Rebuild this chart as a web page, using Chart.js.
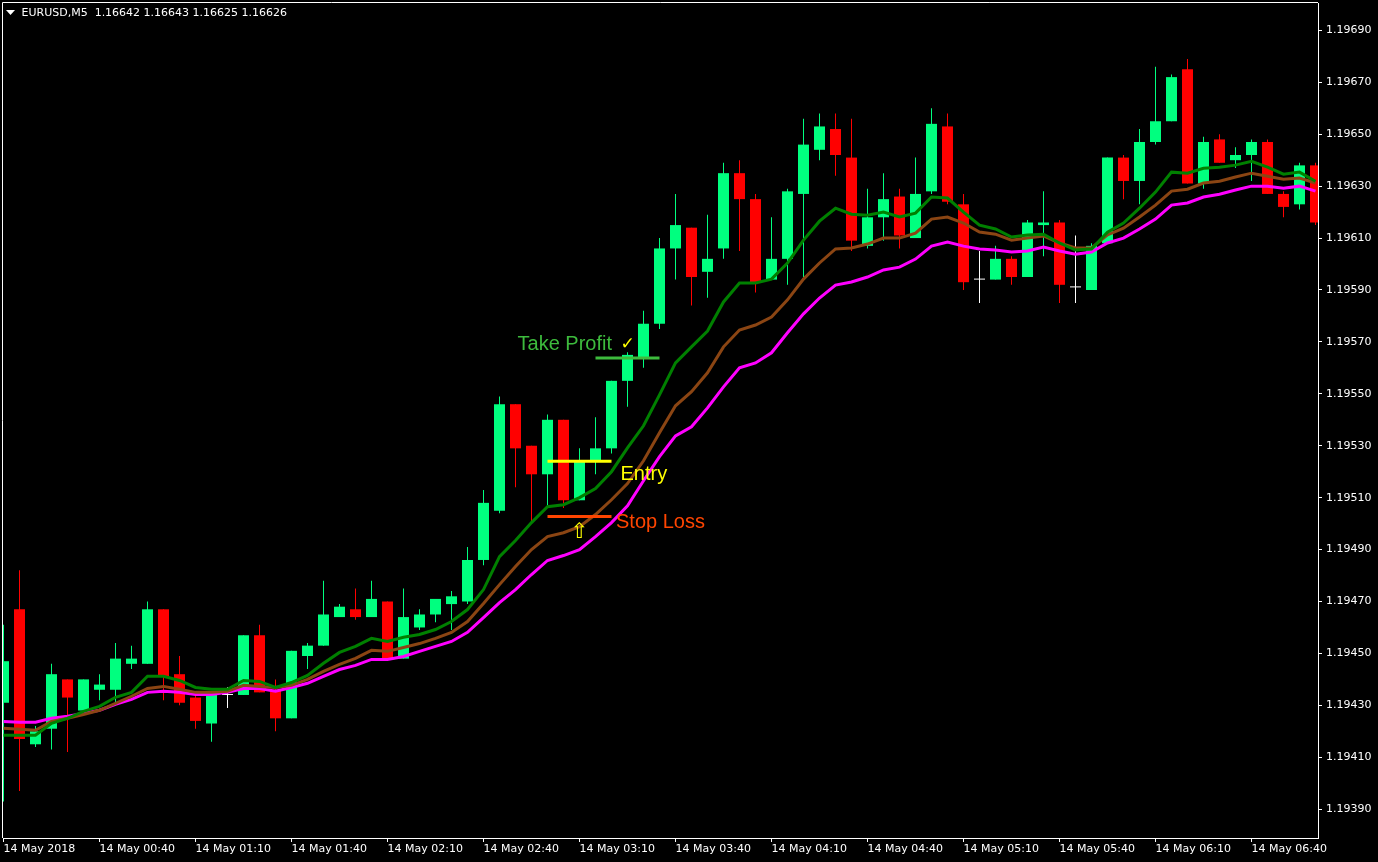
<!DOCTYPE html>
<html>
<head>
<meta charset="utf-8">
<title>EURUSD,M5</title>
<script src="https://cdn.jsdelivr.net/npm/chart.js@4.4.1/dist/chart.umd.min.js"></script>
<style>
  html, body { margin: 0; padding: 0; background: #000; overflow: hidden; }
  canvas { display: block; }
</style>
</head>
<body>
<canvas id="myChart" width="1378" height="862"></canvas>
<script>
// EURUSD M5, 14 May 2018 - one value per 5 minute bar
const open = [
  1.19431, 1.19467, 1.19415, 1.19421, 1.19440, 1.19428, 1.19436, 1.19436, 1.19446, 1.19446,
  1.19467, 1.19442, 1.19433, 1.19423, 1.19434, 1.19434, 1.19457, 1.19436, 1.19425, 1.19449,
  1.19453, 1.19464, 1.19467, 1.19464, 1.19470, 1.19448, 1.19460, 1.19465, 1.19469, 1.19470,
  1.19486, 1.19505, 1.19546, 1.19530, 1.19519, 1.19540, 1.19509, 1.19524, 1.19529, 1.19555,
  1.19564, 1.19577, 1.19606, 1.19614, 1.19597, 1.19606, 1.19635, 1.19625, 1.19594, 1.19602,
  1.19627, 1.19644, 1.19652, 1.19641, 1.19607, 1.19618, 1.19626, 1.19610, 1.19628, 1.19653,
  1.19623, 1.19594, 1.19594, 1.19602, 1.19595, 1.19615, 1.19616, 1.19591, 1.19590, 1.19608,
  1.19641, 1.19632, 1.19647, 1.19655, 1.19675, 1.19631, 1.19648, 1.19640, 1.19642, 1.19647,
  1.19627, 1.19623, 1.19638
];
const high = [
  1.19461, 1.19482, 1.19422, 1.19446, 1.19440, 1.19440, 1.19442, 1.19454, 1.19453, 1.19470,
  1.19467, 1.19449, 1.19434, 1.19434, 1.19437, 1.19457, 1.19461, 1.19440, 1.19451, 1.19454,
  1.19478, 1.19469, 1.19475, 1.19478, 1.19470, 1.19475, 1.19467, 1.19471, 1.19474, 1.19491,
  1.19513, 1.19549, 1.19546, 1.19530, 1.19542, 1.19540, 1.19529, 1.19541, 1.19555, 1.19566,
  1.19582, 1.19610, 1.19627, 1.19614, 1.19619, 1.19639, 1.19640, 1.19627, 1.19618, 1.19629,
  1.19656, 1.19658, 1.19658, 1.19656, 1.19629, 1.19635, 1.19629, 1.19641, 1.19660, 1.19658,
  1.19627, 1.19605, 1.19607, 1.19603, 1.19617, 1.19628, 1.19617, 1.19611, 1.19608, 1.19641,
  1.19642, 1.19652, 1.19676, 1.19673, 1.19679, 1.19649, 1.19650, 1.19645, 1.19648, 1.19648,
  1.19628, 1.19639, 1.19639
];
const low = [
  1.19393, 1.19397, 1.19414, 1.19413, 1.19412, 1.19428, 1.19432, 1.19431, 1.19444, 1.19446,
  1.19432, 1.19430, 1.19421, 1.19416, 1.19429, 1.19434, 1.19435, 1.19420, 1.19425, 1.19444,
  1.19453, 1.19464, 1.19463, 1.19464, 1.19448, 1.19448, 1.19459, 1.19462, 1.19459, 1.19469,
  1.19484, 1.19504, 1.19514, 1.19501, 1.19507, 1.19506, 1.19509, 1.19519, 1.19527, 1.19545,
  1.19560, 1.19575, 1.19594, 1.19584, 1.19587, 1.19602, 1.19605, 1.19589, 1.19594, 1.19592,
  1.19595, 1.19640, 1.19634, 1.19605, 1.19606, 1.19609, 1.19606, 1.19610, 1.19627, 1.19623,
  1.19590, 1.19585, 1.19594, 1.19592, 1.19595, 1.19603, 1.19585, 1.19585, 1.19590, 1.19608,
  1.19625, 1.19623, 1.19646, 1.19655, 1.19631, 1.19629, 1.19639, 1.19637, 1.19632, 1.19627,
  1.19618, 1.19621, 1.19615
];
const close = [
  1.19447, 1.19417, 1.19420, 1.19442, 1.19433, 1.19440, 1.19438, 1.19448, 1.19448, 1.19467,
  1.19441, 1.19431, 1.19424, 1.19434, 1.19434, 1.19457, 1.19435, 1.19425, 1.19451, 1.19453,
  1.19465, 1.19468, 1.19464, 1.19471, 1.19448, 1.19464, 1.19465, 1.19471, 1.19472, 1.19486,
  1.19508, 1.19546, 1.19529, 1.19519, 1.19540, 1.19509, 1.19524, 1.19529, 1.19555, 1.19565,
  1.19577, 1.19606, 1.19615, 1.19595, 1.19602, 1.19635, 1.19625, 1.19593, 1.19602, 1.19628,
  1.19646, 1.19653, 1.19642, 1.19609, 1.19618, 1.19625, 1.19611, 1.19627, 1.19654, 1.19624,
  1.19593, 1.19594, 1.19602, 1.19595, 1.19616, 1.19616, 1.19592, 1.19591, 1.19607, 1.19641,
  1.19632, 1.19647, 1.19655, 1.19672, 1.19631, 1.19647, 1.19639, 1.19642, 1.19647, 1.19627,
  1.19622, 1.19638, 1.19616
];

// the three moving averages
const maGreen = [
  1.194185, 1.194185, 1.194185, 1.194231, 1.194250, 1.194277, 1.194296, 1.194331, 1.194350, 1.194412,
  1.194412, 1.194396, 1.194369, 1.194362, 1.194362, 1.194396, 1.194392, 1.194369, 1.194388, 1.194415,
  1.194462, 1.194504, 1.194527, 1.194558, 1.194546, 1.194562, 1.194573, 1.194592, 1.194623, 1.194669,
  1.194746, 1.194873, 1.194935, 1.195004, 1.195065, 1.195073, 1.195100, 1.195135, 1.195200, 1.195292,
  1.195377, 1.195496, 1.195619, 1.195681, 1.195742, 1.195854, 1.195927, 1.195927, 1.195942, 1.196004,
  1.196092, 1.196165, 1.196215, 1.196192, 1.196188, 1.196200, 1.196181, 1.196196, 1.196258, 1.196254,
  1.196200, 1.196150, 1.196135, 1.196104, 1.196112, 1.196115, 1.196081, 1.196054, 1.196058, 1.196123,
  1.196158, 1.196215, 1.196277, 1.196354, 1.196350, 1.196369, 1.196373, 1.196381, 1.196396, 1.196373,
  1.196346, 1.196354, 1.196319
];
const maBrown = [
  1.194212, 1.194208, 1.194204, 1.194238, 1.194250, 1.194265, 1.194281, 1.194308, 1.194335, 1.194365,
  1.194373, 1.194362, 1.194350, 1.194350, 1.194354, 1.194377, 1.194373, 1.194369, 1.194377, 1.194400,
  1.194431, 1.194458, 1.194481, 1.194512, 1.194508, 1.194523, 1.194538, 1.194558, 1.194581, 1.194623,
  1.194692, 1.194765, 1.194835, 1.194900, 1.194950, 1.194965, 1.194988, 1.195035, 1.195092, 1.195154,
  1.195242, 1.195350, 1.195454, 1.195508, 1.195581, 1.195681, 1.195746, 1.195765, 1.195796, 1.195862,
  1.195942, 1.196004, 1.196058, 1.196062, 1.196077, 1.196100, 1.196100, 1.196119, 1.196173, 1.196181,
  1.196158, 1.196123, 1.196115, 1.196092, 1.196100, 1.196108, 1.196081, 1.196062, 1.196062, 1.196112,
  1.196138, 1.196181, 1.196227, 1.196281, 1.196288, 1.196312, 1.196319, 1.196335, 1.196350, 1.196338,
  1.196327, 1.196331, 1.196312
];
const maMagenta = [
  1.194238, 1.194235, 1.194235, 1.194250, 1.194258, 1.194269, 1.194281, 1.194304, 1.194323, 1.194350,
  1.194354, 1.194350, 1.194342, 1.194342, 1.194350, 1.194365, 1.194365, 1.194354, 1.194369, 1.194385,
  1.194412, 1.194438, 1.194454, 1.194477, 1.194477, 1.194488, 1.194508, 1.194527, 1.194546, 1.194581,
  1.194638, 1.194696, 1.194746, 1.194804, 1.194858, 1.194877, 1.194900, 1.194950, 1.195004, 1.195069,
  1.195165, 1.195258, 1.195338, 1.195373, 1.195446, 1.195527, 1.195600, 1.195619, 1.195658, 1.195735,
  1.195808, 1.195869, 1.195919, 1.195931, 1.195950, 1.195977, 1.195988, 1.196019, 1.196069, 1.196085,
  1.196069, 1.196058, 1.196054, 1.196046, 1.196050, 1.196065, 1.196050, 1.196038, 1.196046, 1.196081,
  1.196100, 1.196135, 1.196173, 1.196227, 1.196235, 1.196258, 1.196269, 1.196285, 1.196300, 1.196300,
  1.196292, 1.196300, 1.196281
];

// axis ticks
const timeTickBars = [0, 6, 12, 18, 24, 30, 36, 42, 48, 54, 60, 66, 72, 78];
const timeTickLabels = [
  "14 May 2018", "14 May 00:40", "14 May 01:10", "14 May 01:40", "14 May 02:10",
  "14 May 02:40", "14 May 03:10", "14 May 03:40", "14 May 04:10", "14 May 04:40",
  "14 May 05:10", "14 May 05:40", "14 May 06:10", "14 May 06:40"
];
const priceTicks = [
  1.19390, 1.19410, 1.19430, 1.19450, 1.19470, 1.19490, 1.19510, 1.19530,
  1.19550, 1.19570, 1.19590, 1.19610, 1.19630, 1.19650, 1.19670, 1.19690
];

// trade levels drawn on the chart
const levelNames = ["Take Profit", "Entry", "Stop Loss"];
const levelPrices = [1.195638, 1.195240, 1.195027];
const levelFrom = [37, 34, 34];
const levelTo = [41, 38, 38];
const signalBar = 36;
const signalPrice = 1.194964;

const headerText = "EURUSD,M5  1.16642 1.16643 1.16625 1.16626";

const UP = "#00ff7f";
const DOWN = "#ff0000";
const DOJI = "#ffffff";
const levelColors = ["#3dbb3d", "#ffff00", "#ff4500"];

const bars = open.map((_, i) => i);
const candleColors = bars.map(i => close[i] > open[i] ? UP : (close[i] < open[i] ? DOWN : DOJI));

function maLine(values, color, label) {
  return {
    type: "line",
    label: label,
    data: bars.map(i => ({ x: i, y: values[i] })),
    borderColor: color,
    borderWidth: 3,
    pointRadius: 0,
    tension: 0,
    order: 1
  };
}

function levelLine(n) {
  return {
    type: "line",
    label: levelNames[n],
    data: [{ x: levelFrom[n], y: levelPrices[n] }, { x: levelTo[n], y: levelPrices[n] }],
    borderColor: levelColors[n],
    borderWidth: 3,
    pointRadius: 0,
    order: 0
  };
}

const mtLook = {
  id: "mtLook",
  beforeDraw(chart) {
    const ctx = chart.ctx;
    ctx.save();
    ctx.fillStyle = "#000";
    ctx.fillRect(0, 0, chart.width, chart.height);
    ctx.restore();
  },
  afterDatasetsDraw(chart) {
    const { ctx, scales: { x, y } } = chart;
    ctx.save();
    ctx.textBaseline = "alphabetic";
    ctx.font = '20px "Liberation Sans", Arial, sans-serif';

    // take profit label sits left of its line, with a tick mark after it
    let px = x.getPixelForValue(levelFrom[0]);
    let py = y.getPixelForValue(levelPrices[0]);
    ctx.fillStyle = levelColors[0];
    ctx.textAlign = "right";
    ctx.fillText(levelNames[0], px + 16.5, py - 8);
    ctx.fillStyle = "#ffff00";
    ctx.textAlign = "left";
    ctx.font = '17px "DejaVu Sans", sans-serif';
    ctx.fillText("\u2713", px + 25, py - 9);

    // entry / stop loss labels to the right of their lines
    ctx.font = '20px "Liberation Sans", Arial, sans-serif';
    px = x.getPixelForValue(levelTo[1]);
    py = y.getPixelForValue(levelPrices[1]);
    ctx.fillStyle = levelColors[1];
    ctx.fillText(levelNames[1], px + 9, py + 19);
    px = x.getPixelForValue(levelTo[2]);
    py = y.getPixelForValue(levelPrices[2]);
    ctx.fillStyle = levelColors[2];
    ctx.fillText(levelNames[2], px + 4.5, py + 11);

    // buy arrow
    ctx.font = '21px "DejaVu Sans", sans-serif';
    ctx.textAlign = "center";
    ctx.textBaseline = "middle";
    ctx.fillStyle = "#ffff00";
    ctx.fillText("\u21e7", x.getPixelForValue(signalBar), y.getPixelForValue(signalPrice));
    ctx.restore();
  },
  afterDraw(chart) {
    const { ctx, chartArea: ca } = chart;
    ctx.save();
    ctx.strokeStyle = "#fff";
    ctx.lineWidth = 1;
    ctx.beginPath();
    ctx.moveTo(ca.left - 0.5, ca.bottom);
    ctx.lineTo(ca.left - 0.5, ca.top - 0.5);
    ctx.lineTo(ca.right, ca.top - 0.5);
    ctx.stroke();

    // header: symbol, timeframe and last OHLC
    ctx.fillStyle = "#fff";
    ctx.beginPath();
    ctx.moveTo(6, 10);
    ctx.lineTo(15, 10);
    ctx.lineTo(10.5, 15);
    ctx.closePath();
    ctx.fill();
    ctx.font = '11px "DejaVu Sans", sans-serif';
    ctx.textBaseline = "middle";
    ctx.textAlign = "left";
    ctx.fillText(headerText, 21.5, 13);
    ctx.restore();
  }
};

const axisFont = { family: "DejaVu Sans", size: 11 };

const mychart = document.getElementById("myChart");

let candleChart = new Chart(mychart, {
  type: "bar",
  data: {
    datasets: [
      levelLine(0),
      levelLine(1),
      levelLine(2),
      maLine(maGreen, "#008000", "ma green"),
      maLine(maBrown, "#8b4513", "ma brown"),
      maLine(maMagenta, "#ff00ff", "ma magenta"),
      {
        label: "body",
        data: bars.map(i => ({ x: i, y: [open[i], close[i]] })),
        backgroundColor: candleColors,
        borderWidth: 0,
        barThickness: 11,
        minBarLength: 1,
        inflateAmount: 0,
        grouped: false,
        order: 2
      },
      {
        label: "wick",
        data: bars.map(i => ({ x: i, y: [low[i], high[i]] })),
        backgroundColor: candleColors,
        borderWidth: 0,
        barThickness: 1,
        inflateAmount: 0,
        grouped: false,
        order: 3
      }
    ]
  },
  options: {
    responsive: false,
    animation: false,
    devicePixelRatio: 1,
    layout: { padding: { left: 3, top: 3, right: 0, bottom: 0 } },
    plugins: {
      legend: { display: false },
      tooltip: { enabled: false }
    },
    scales: {
      x: {
        type: "linear",
        position: "bottom",
        min: -0.03125,
        max: 82.15625,
        bounds: "data",
        offset: false,
        afterBuildTicks: s => { s.ticks = timeTickBars.map(v => ({ value: v })); },
        afterFit: s => { s.height = 24; s.paddingLeft = 0; s.paddingRight = 0; },
        ticks: {
          autoSkip: false,
          maxRotation: 0,
          align: "start",
          padding: 1,
          color: "#fff",
          font: axisFont,
          callback: v => timeTickLabels[timeTickBars.indexOf(v)]
        },
        grid: { offset: false, drawOnChartArea: false, drawTicks: true, tickLength: 4, color: "#fff" },
        border: { display: true, color: "#fff", width: 1 }
      },
      y: {
        type: "linear",
        position: "right",
        min: 1.193789,
        max: 1.1970055,
        bounds: "data",
        afterBuildTicks: s => { s.ticks = priceTicks.map(v => ({ value: v })); },
        afterFit: s => { s.width = 60; s.paddingTop = 0; s.paddingBottom = 0; },
        ticks: {
          padding: 4,
          color: "#fff",
          font: axisFont,
          callback: v => v.toFixed(5)
        },
        grid: { drawOnChartArea: false, drawTicks: true, tickLength: 4, color: "#fff" },
        border: { display: true, color: "#fff", width: 1 }
      }
    }
  },
  plugins: [mtLook]
});
</script>
</body>
</html>
